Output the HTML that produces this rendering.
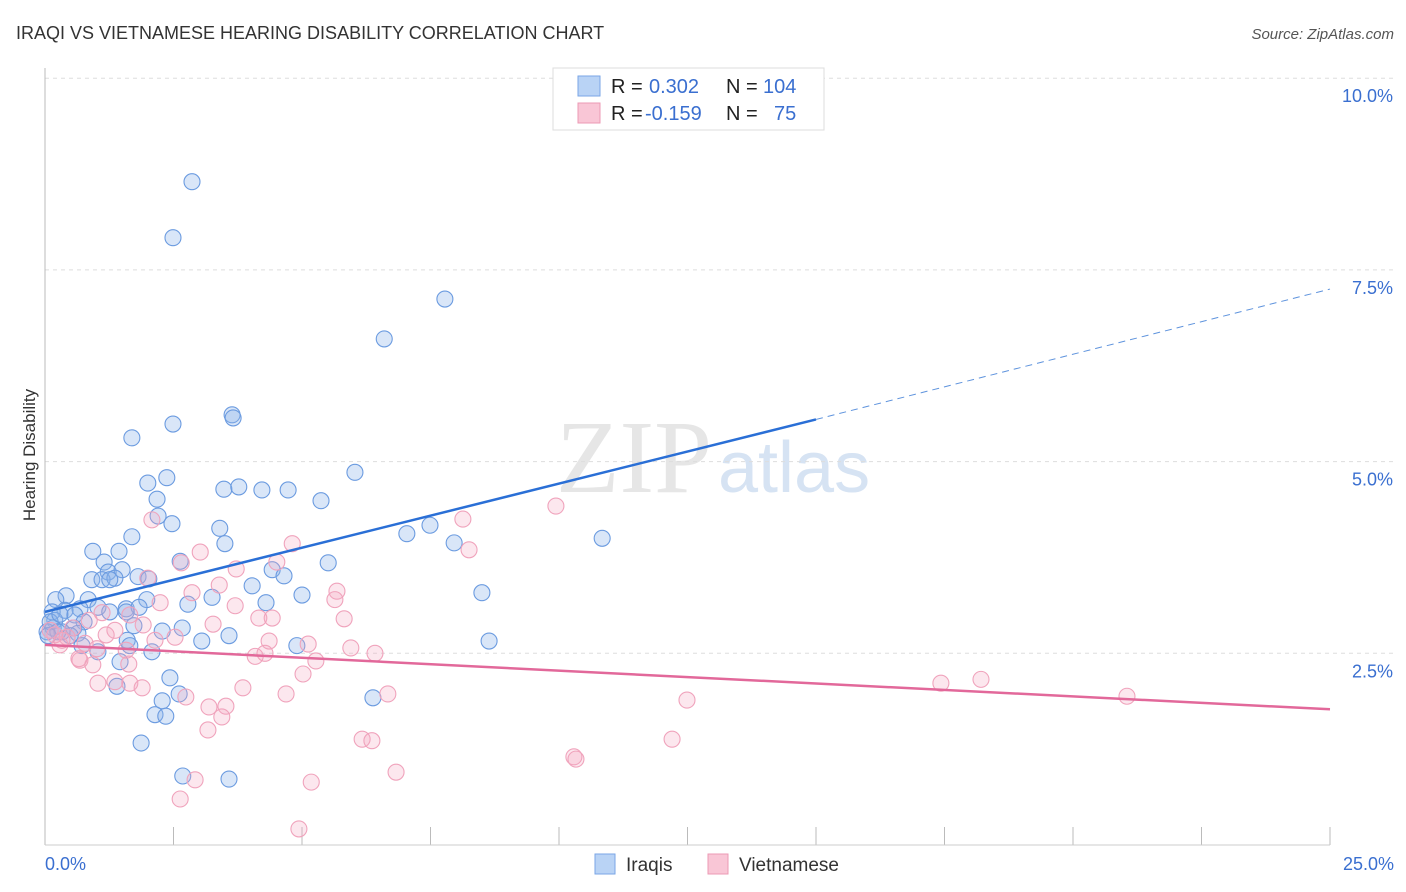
<!DOCTYPE html>
<html><head><meta charset="utf-8"><style>
body{margin:0;background:#fff;font-family:"Liberation Sans",sans-serif}
</style></head><body>
<svg id="chart" width="1406" height="892" xmlns="http://www.w3.org/2000/svg" style="display:block">
<text x="16" y="39" font-size="18" fill="#333">IRAQI VS VIETNAMESE HEARING DISABILITY CORRELATION CHART</text>
<text x="1394" y="39" font-size="15" fill="#555" font-style="italic" text-anchor="end">Source: ZipAtlas.com</text>
<text x="556" y="492" font-size="104" fill="#e6e6e6" font-family="Liberation Serif,serif">ZIP</text>
<text x="718" y="492" font-size="72" fill="#d6e3f3">atlas</text>
<g id="grid"></g>
<line x1="45" y1="68" x2="45" y2="845" stroke="#bbb"/>
<line x1="45" y1="845" x2="1330" y2="845" stroke="#ccc"/>
<text x="35" y="455" font-size="17" fill="#333" transform="rotate(-90 35 455)" text-anchor="middle">Hearing Disability</text>
<text x="45" y="870" font-size="18" fill="#3a6fd0">0.0%</text>
<text x="1394" y="870" font-size="18" fill="#3a6fd0" text-anchor="end">25.0%</text>
<g id="pts"></g>
<g id="trends"></g>
<g>
<rect x="553" y="68" width="271" height="62" fill="#fff" stroke="#ddd"/>
<rect x="578" y="76" width="22" height="20" fill="#b9d3f5" stroke="#7aa6e6"/>
<rect x="578" y="103" width="22" height="20" fill="#f9c6d6" stroke="#ec9ab4"/>
<text x="611" y="93" font-size="20" fill="#222">R = </text><text x="649" y="93" font-size="20" fill="#3a6fd0">0.302</text>
<text x="726" y="93" font-size="20" fill="#222">N = </text><text x="763" y="93" font-size="20" fill="#3a6fd0">104</text>
<text x="611" y="120" font-size="20" fill="#222">R = </text><text x="645" y="120" font-size="20" fill="#3a6fd0">-0.159</text>
<text x="726" y="120" font-size="20" fill="#222">N = </text><text x="774" y="120" font-size="20" fill="#3a6fd0">75</text>
</g>
<g>
<rect x="595" y="854" width="20" height="20" fill="#b9d3f5" stroke="#7aa6e6"/>
<text x="626" y="871" font-size="19" fill="#333">Iraqis</text>
<rect x="708" y="854" width="20" height="20" fill="#f9c6d6" stroke="#ec9ab4"/>
<text x="739" y="871" font-size="19" fill="#333">Vietnamese</text>
</g>
</svg>
<script>
const yTicks=[2.5,5.0,7.5,10.0];
const xTicks=[0,2.5,5,7.5,10,12.5,15,17.5,20,22.5,25];
const bluePx=[[192,182],[173,238],[445,299],[384,339],[232,415],[233,418],[173,424],[132,438],[355,472],[167,478],[148,483],[224,489],[239,487],[262,490],[288,490],[321,501],[157,499],[158,516],[172,524],[220,528],[407,534],[430,525],[454,543],[602,538],[132,537],[225,544],[93,551],[119,551],[180,561],[328,563],[104,562],[272,570],[284,576],[108,572],[122,570],[92,580],[102,580],[115,578],[138,577],[149,579],[252,586],[482,593],[302,595],[212,597],[66,596],[56,600],[88,600],[147,600],[188,604],[266,603],[98,607],[126,609],[139,607],[80,609],[65,610],[52,612],[75,615],[110,612],[126,612],[84,622],[55,620],[74,628],[53,628],[47,632],[62,632],[78,633],[134,626],[162,631],[182,628],[229,636],[127,640],[202,641],[489,641],[297,646],[82,646],[130,646],[98,652],[152,652],[120,662],[170,678],[117,686],[179,694],[373,698],[162,701],[155,715],[166,716],[141,743],[183,776],[229,779],[50,622],[58,632],[70,636],[48,636],[60,614],[110,580]];
const pinkPx=[[152,520],[463,519],[556,506],[292,544],[200,552],[469,550],[181,563],[236,569],[277,562],[148,578],[219,585],[337,591],[160,603],[192,593],[335,600],[235,606],[102,613],[259,618],[272,618],[344,619],[130,615],[213,624],[89,620],[73,628],[143,625],[115,630],[55,635],[67,637],[106,635],[175,637],[155,640],[269,641],[308,644],[351,648],[375,653],[60,645],[85,643],[97,649],[126,650],[255,656],[265,653],[316,661],[80,660],[93,665],[129,664],[79,659],[303,674],[243,688],[98,683],[115,682],[130,683],[142,688],[186,697],[286,694],[388,694],[687,700],[941,683],[981,679],[1127,696],[226,706],[209,707],[222,717],[208,730],[362,739],[372,741],[672,739],[574,757],[576,759],[396,772],[195,780],[311,782],[180,799],[299,829],[50,630],[62,640]];
const iraqiX=bluePx.map(p=>+((p[0]-45)/1285*25).toFixed(2));
const iraqiY=bluePx.map(p=>+((845-p[1])/766.8*10).toFixed(2));
const vietX=pinkPx.map(p=>+((p[0]-45)/1285*25).toFixed(2));
const vietY=pinkPx.map(p=>+((845-p[1])/766.8*10).toFixed(2));
const iraqiTrend=[[0,3.04],[15,5.55],[25,7.25]];
const vietTrend=[[0,2.61],[25,1.77]];
const NS="http://www.w3.org/2000/svg";
function sx(v){return 45+v/25*1285;}
function sy(v){return 845-v/10*766.8;}
function mk(t,a,p){const e=document.createElementNS(NS,t);for(const k in a)e.setAttribute(k,a[k]);(p||document.getElementById('chart')).appendChild(e);return e;}
const grid=document.getElementById('grid');
yTicks.forEach(t=>{
 const l=mk('line',{x1:45,x2:1394,y1:sy(t),y2:sy(t),stroke:'#ddd','stroke-dasharray':'4 4'},grid);
 
 
 const tx=mk('text',{x:1393,y:sy(t)+24,'font-size':18,fill:'#3a6fd0','text-anchor':'end'},grid);
 tx.textContent=t.toFixed(1)+'%';
 
 
});
xTicks.forEach(t=>{
 const l=mk('line',{x1:sx(t),x2:sx(t),y1:827,y2:845,stroke:'#bbb'},grid);
 
 
});
const pts=document.getElementById('pts');
iraqiX.forEach((x,i)=>{
 const c=mk('circle',{cx:sx(x),cy:sy(iraqiY[i]),r:8,fill:'rgba(140,180,235,0.33)',stroke:'#6b9be0','stroke-width':1.1},pts);
 
 
});
vietX.forEach((x,i)=>{
 const c=mk('circle',{cx:sx(x),cy:sy(vietY[i]),r:8,fill:'rgba(245,170,195,0.28)',stroke:'#f0a3bc','stroke-width':1.1},pts);
 
 
});
const tr=document.getElementById('trends');
let b1=mk('line',{x1:sx(iraqiTrend[0][0]),y1:sy(iraqiTrend[0][1]),x2:sx(iraqiTrend[1][0]),y2:sy(iraqiTrend[1][1]),stroke:'#2a6fd6','stroke-width':2.5},tr);


let b2=mk('line',{x1:sx(iraqiTrend[1][0]),y1:sy(iraqiTrend[1][1]),x2:sx(iraqiTrend[2][0]),y2:sy(iraqiTrend[2][1]),stroke:'#5e93dd','stroke-width':1,'stroke-dasharray':'7 5'},tr);


let p1=mk('line',{x1:sx(vietTrend[0][0]),y1:sy(vietTrend[0][1]),x2:sx(vietTrend[1][0]),y2:sy(vietTrend[1][1]),stroke:'#e2689a','stroke-width':2.5},tr);


</script>
</body></html>
